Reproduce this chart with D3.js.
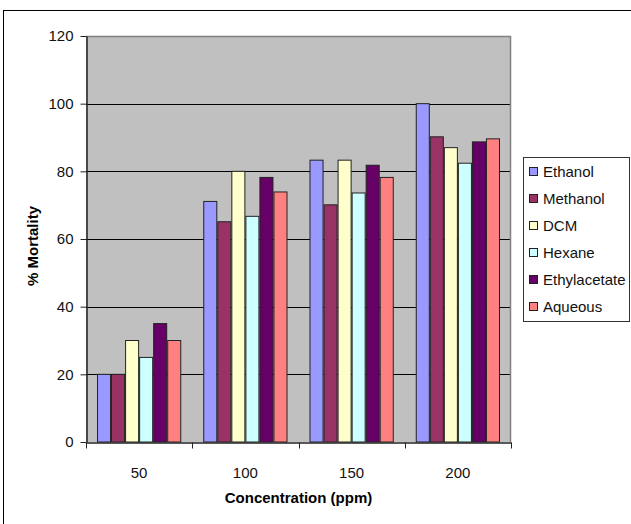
<!DOCTYPE html>
<html>
<head>
<meta charset="utf-8">
<script src="https://cdn.jsdelivr.net/npm/d3@7"></script>
<style>
  html, body { margin: 0; padding: 0; background: #fff; }
  svg { display: block; font-family: "Liberation Sans", Arial, sans-serif; }
</style>
</head>
<body>
<svg id="chart" width="631" height="524"></svg>
<script>
// Mortality (%) by extract solvent at each concentration
const concentrations = ["50", "100", "150", "200"];
const solvents = ["Ethanol", "Methanol", "DCM", "Hexane", "Ethylacetate", "Aqueous"];
const ethanol      = [20, 71.1, 83.3, 100];
const methanol     = [20, 65.1, 70.1, 90.2];
const dcm          = [30, 80, 83.3, 87];
const hexane       = [25, 66.7, 73.6, 82.4];
const ethylacetate = [35, 78.2, 81.8, 88.7];
const aqueous      = [30, 73.9, 78.2, 89.6];
const yTicks = [0, 20, 40, 60, 80, 100, 120];
const colors = ["#9999FF", "#993366", "#FFFFCC", "#CCFFFF", "#660066", "#FF8080"];

const seriesValues = [ethanol, methanol, dcm, hexane, ethylacetate, aqueous];
const rows = concentrations.map((c, i) => ({
  conc: c,
  values: solvents.map((s, j) => ({ solvent: s, value: seriesValues[j][i] }))
}));

const svg = d3.select("#chart");
const plot = { left: 86, right: 511, top: 36, bottom: 442 };

// outer chart frame
svg.append("rect")
  .attr("x", 3.5).attr("y", 10.5)
  .attr("width", 700).attr("height", 600)
  .attr("fill", "none").attr("stroke", "#000").attr("stroke-width", 1);

const x0 = d3.scaleBand().domain(concentrations).range([plot.left, plot.right]);
const x1 = d3.scaleBand().domain(solvents).range([11, x0.bandwidth() - 11]);
const y = d3.scaleLinear().domain([0, 120]).range([plot.bottom, plot.top]);
const color = d3.scaleOrdinal().domain(solvents).range(colors);

// plot background
svg.append("rect")
  .attr("x", plot.left).attr("y", plot.top)
  .attr("width", plot.right - plot.left).attr("height", plot.bottom - plot.top)
  .attr("fill", "#C0C0C0");

// horizontal gridlines
svg.append("g")
  .selectAll("line")
  .data(yTicks.filter(t => t > 0 && t < 120))
  .join("line")
  .attr("x1", plot.left).attr("x2", plot.right)
  .attr("y1", d => Math.round(y(d)) + 0.5).attr("y2", d => Math.round(y(d)) + 0.5)
  .attr("stroke", "#000").attr("stroke-width", 1);

// top / right border of the plot area
svg.append("path")
  .attr("d", `M${plot.left},${plot.top + 0.5}H${plot.right - 0.5}V${plot.bottom}`)
  .attr("fill", "none").attr("stroke", "#808080").attr("stroke-width", 1.5);

// bars
svg.append("g")
  .selectAll("g")
  .data(rows)
  .join("g")
  .attr("transform", d => `translate(${x0(d.conc)},0)`)
  .selectAll("rect")
  .data(d => d.values)
  .join("rect")
  .attr("x", d => x1(d.solvent) + 0.5)
  .attr("y", d => y(d.value))
  .attr("width", x1.bandwidth() - 1)
  .attr("height", d => y(0) - y(d.value))
  .attr("fill", d => color(d.solvent))
  .attr("stroke", "#222").attr("stroke-width", 1);

// y axis
const yAxis = svg.append("g")
  .attr("transform", `translate(${plot.left + 0.5},0)`)
  .call(d3.axisLeft(y).tickValues(yTicks).tickSize(6).tickPadding(7).tickSizeOuter(0));
yAxis.select(".domain").attr("stroke", "#222").attr("stroke-width", 1.5);
yAxis.selectAll(".tick line").attr("stroke", "#222");
yAxis.selectAll(".tick text")
  .attr("font-size", 15).attr("fill", "#111")
  .attr("font-family", "Liberation Sans, Arial, sans-serif");

// x axis
const xAxis = svg.append("g")
  .attr("transform", `translate(0,${plot.bottom + 0.5})`)
  .call(d3.axisBottom(x0).tickSize(0).tickPadding(25).tickSizeOuter(0));
xAxis.select(".domain").attr("stroke", "#222").attr("stroke-width", 1.5);
xAxis.selectAll(".tick text")
  .attr("font-size", 15).attr("fill", "#111")
  .attr("font-family", "Liberation Sans, Arial, sans-serif");
// tick marks sit on the category boundaries
xAxis.selectAll(".bound")
  .data(concentrations.map(c => x0(c)).concat([plot.right]))
  .join("line")
  .attr("class", "bound")
  .attr("x1", d => Math.round(d) + 0.5).attr("x2", d => Math.round(d) + 0.5)
  .attr("y1", 0).attr("y2", 6)
  .attr("stroke", "#222");

// axis titles
svg.append("text")
  .attr("x", (plot.left + plot.right) / 2).attr("y", 503)
  .attr("text-anchor", "middle")
  .attr("font-size", 15).attr("font-weight", "bold").attr("fill", "#000")
  .text("Concentration (ppm)");

svg.append("text")
  .attr("transform", `translate(38,246) rotate(-90)`)
  .attr("text-anchor", "middle")
  .attr("font-size", 15).attr("font-weight", "bold").attr("fill", "#000")
  .text("% Mortality");

// legend
const legend = svg.append("g");
legend.append("rect")
  .attr("x", 523.5).attr("y", 157.5)
  .attr("width", 106).attr("height", 164)
  .attr("fill", "#fff").attr("stroke", "#333").attr("stroke-width", 1);
const item = legend.selectAll("g.item")
  .data(solvents)
  .join("g")
  .attr("class", "item")
  .attr("transform", (d, i) => `translate(529,${172 + i * 27})`);
item.append("rect")
  .attr("x", 0.5).attr("y", -4.5)
  .attr("width", 8).attr("height", 8)
  .attr("fill", d => color(d)).attr("stroke", "#222");
item.append("text")
  .attr("x", 14).attr("y", 0).attr("dy", "0.36em")
  .attr("font-size", 15).attr("fill", "#111")
  .text(d => d);
</script>
</body>
</html>
